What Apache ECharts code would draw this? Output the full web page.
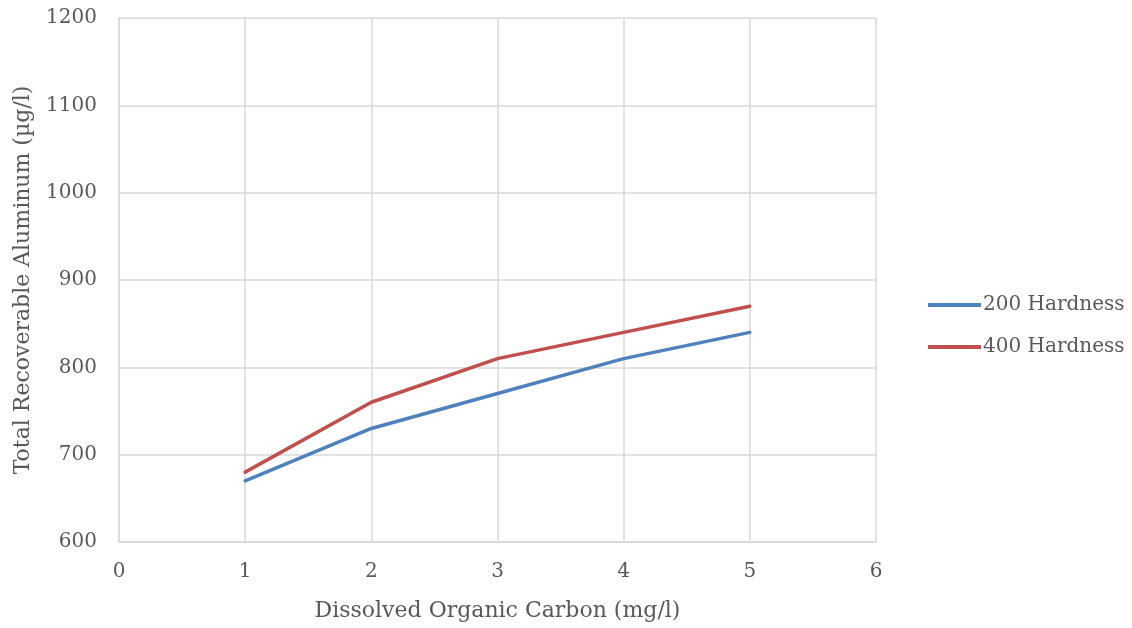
<!DOCTYPE html>
<html>
<head>
<meta charset="utf-8">
<script src="https://cdn.jsdelivr.net/npm/echarts@6/dist/echarts.min.js"></script>
<style>
html,body{margin:0;padding:0;background:#fff;}
#main{width:1132px;height:628px;}
</style>
</head>
<body>
<div id="main"></div>
<script>
var doc = [1, 2, 3, 4, 5];
var hard200 = [670, 730, 770, 810, 840];
var hard400 = [680, 760, 810, 840, 870];
var names = ['200 Hardness', '400 Hardness'];

function pairs(xs, ys) {
	var out = [];
	for (var i = 0; i < xs.length; i++) out.push([xs[i], ys[i]]);
	return out;
}

var font = 'DejaVu Serif';
var txt = '#595959';
var gridCol = '#d9d9d9';

var myChart = echarts.init(document.getElementById('main'));
myChart.setOption({
	animation: false,
	textStyle: { fontFamily: font },
	grid: { left: 119, right: 256, top: 18, bottom: 86, containLabel: false },
	legend: {
		orient: 'vertical',
		left: 923,
		top: 290,
		itemWidth: 53,
		itemHeight: 4,
		itemGap: 22,
		textStyle: { fontFamily: font, fontSize: 20, color: txt, padding: [0, 0, 0, -3] },
		data: [
			{ name: names[0], icon: 'rect' },
			{ name: names[1], icon: 'rect' }
		]
	},
	xAxis: {
		type: 'value',
		min: 0, max: 6, interval: 1,
		name: 'Dissolved Organic Carbon (mg/l)',
		nameLocation: 'middle',
		nameGap: 58,
		nameTextStyle: { fontFamily: font, fontSize: 22, color: txt },
		axisLine: { show: true, lineStyle: { color: gridCol, width: 1.5 } },
		axisTick: { show: false },
		axisLabel: { fontFamily: font, fontSize: 20, color: txt, margin: 20 },
		splitLine: { show: true, lineStyle: { color: gridCol, width: 1.5 } }
	},
	yAxis: {
		type: 'value',
		min: 600, max: 1200, interval: 100,
		name: 'Total Recoverable Aluminum (µg/l)',
		nameLocation: 'middle',
		nameGap: 85,
		nameTextStyle: { fontFamily: font, fontSize: 22, color: txt },
		axisLine: { show: true, lineStyle: { color: gridCol, width: 1.5 } },
		axisTick: { show: false },
		axisLabel: { fontFamily: font, fontSize: 20, color: txt, margin: 22, formatter: function (v) { return String(v); } },
		splitLine: { show: true, lineStyle: { color: gridCol, width: 1.5 } }
	},
	series: [{
		name: names[0],
		type: 'line',
		data: pairs(doc, hard200),
		showSymbol: false,
		color: '#4f81bd',
		lineStyle: { width: 3.5, color: '#4f81bd', cap: 'round', join: 'round' }
	}, {
		name: names[1],
		type: 'line',
		data: pairs(doc, hard400),
		showSymbol: false,
		color: '#c0504d',
		lineStyle: { width: 3.5, color: '#c0504d', cap: 'round', join: 'round' }
	}]
});
</script>
</body>
</html>
